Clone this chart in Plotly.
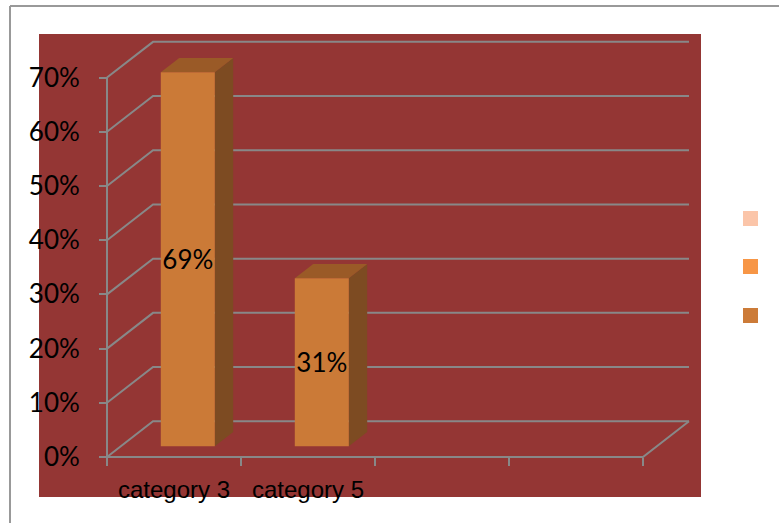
import plotly.graph_objects as go

# ---- data -------------------------------------------------------------
categories = ["category 3", "category 5"]
values = [69, 31]                      # percent
y_ticks = [0, 10, 20, 30, 40, 50, 60, 70]
y_tick_labels = [f"{v}%" for v in y_ticks]
n_slots = 4                            # category slots along the floor

# ---- styling ----------------------------------------------------------
WALL = "#943634"
GRID = "#888888"
FRONT = "#CB7A37"
SIDE = "#7D4B22"
TOP = "#9A5A27"
LEGEND_COLORS = ["#FBC5A9", "#F79646", "#CC7B38"]
NUM_FONT = "Lato, Liberation Sans, sans-serif"
CAT_FONT = "Liberation Sans, Arial, sans-serif"

# plot-area geometry (pixels)
W_FIG, H_FIG = 779, 523
L, T, W, H = 39, 34, 662, 463

# oblique depth of the floor, in axis units
DX, DY = 0.3433, 6.59
Z0, Z1 = 0.30, 0.70                    # bar front / back depth fraction
BAR_W = 0.403

X_RANGE = [-0.5075, 4.4328]
Y_RANGE = [-7.38, 78.04]


def px(xp):
    return (xp - L) / W


def py(yp):
    return (T + H - yp) / H


shapes = []

# back-wall gridlines with their oblique connectors to the front axis
for v in y_ticks:
    shapes.append(dict(
        type="path", xref="x", yref="y", layer="below",
        path=f"M 0,{v} L {DX},{v + DY} L {n_slots + DX},{v + DY}",
        line=dict(color=GRID, width=2),
    ))
# floor: front edge and right edge
shapes.append(dict(
    type="path", xref="x", yref="y", layer="below",
    path=f"M 0,0 L {n_slots},0 L {n_slots + DX},{DY}",
    line=dict(color=GRID, width=2),
))
# front vertical axis
shapes.append(dict(
    type="line", xref="x", yref="y", layer="below",
    x0=0, y0=0, x1=0, y1=y_ticks[-1],
    line=dict(color=GRID, width=2),
))

# bar side and top faces
bx = [i + 0.5 + Z0 * DX for i in range(len(values))]
base = Z0 * DY
ddx, ddy = (Z1 - Z0) * DX, (Z1 - Z0) * DY
for xc, v in zip(bx, values):
    x0, x1 = xc - BAR_W / 2, xc + BAR_W / 2
    top = base + v
    shapes.append(dict(
        type="path", xref="x", yref="y", layer="below",
        path=(f"M {x1},{base} L {x1 + ddx},{base + ddy} "
              f"L {x1 + ddx},{top + ddy} L {x1},{top} Z"),
        fillcolor=SIDE, line=dict(width=0),
    ))
    shapes.append(dict(
        type="path", xref="x", yref="y", layer="below",
        path=(f"M {x0},{top} L {x0 + ddx},{top + ddy} "
              f"L {x1 + ddx},{top + ddy} L {x1},{top} Z"),
        fillcolor=TOP, line=dict(width=0),
    ))

# legend swatches
for c, yt in zip(LEGEND_COLORS, [211, 259, 308]):
    shapes.append(dict(
        type="rect", xref="paper", yref="paper",
        x0=px(743), x1=px(758), y0=py(yt + 15), y1=py(yt),
        fillcolor=c, line=dict(width=0),
    ))

# outer frame
shapes.append(dict(type="line", xref="paper", yref="paper",
                   x0=px(10), y0=py(6), x1=px(800), y1=py(6),
                   line=dict(color="#999999", width=2)))
shapes.append(dict(type="line", xref="paper", yref="paper",
                   x0=px(10), y0=py(6), x1=px(10), y1=py(540),
                   line=dict(color="#999999", width=2)))

fig = go.Figure()
fig.add_trace(go.Bar(
    x=bx, y=values, base=[base] * len(values), width=BAR_W,
    marker=dict(color=FRONT, line=dict(width=0)),
    text=[f"{v}%" for v in values],
    textposition="inside", insidetextanchor="middle",
    insidetextfont=dict(family=NUM_FONT, size=26, color="black"),
    textangle=0, constraintext="none",
    hoverinfo="skip", showlegend=False,
))

fig.update_layout(
    width=W_FIG, height=H_FIG,
    margin=dict(l=L, r=W_FIG - L - W, t=T, b=H_FIG - T - H),
    paper_bgcolor="white", plot_bgcolor=WALL,
    showlegend=False, shapes=shapes,
    xaxis=dict(
        range=X_RANGE, anchor="free", position=py(457),
        showgrid=False, zeroline=False, showline=False,
        tickmode="array", tickvals=[i + 0.5 for i in range(len(categories))],
        ticktext=categories, ticks="",
        tickfont=dict(family=CAT_FONT, size=24, color="black"),
        ticklabelstandoff=16,
        minor=dict(tickmode="array", tickvals=list(range(n_slots + 1)),
                   ticks="outside", ticklen=8, tickcolor=GRID, tickwidth=2,
                   showgrid=False),
    ),
    yaxis=dict(
        range=Y_RANGE, anchor="free", position=px(107),
        showgrid=False, zeroline=False, showline=False,
        tickmode="array", tickvals=y_ticks, ticktext=y_tick_labels,
        ticks="outside", ticklen=8, tickcolor=GRID, tickwidth=2,
        tickfont=dict(family=NUM_FONT, size=26, color="black"),
        ticklabelstandoff=14,
    ),
)

fig.write_html("out.html")
